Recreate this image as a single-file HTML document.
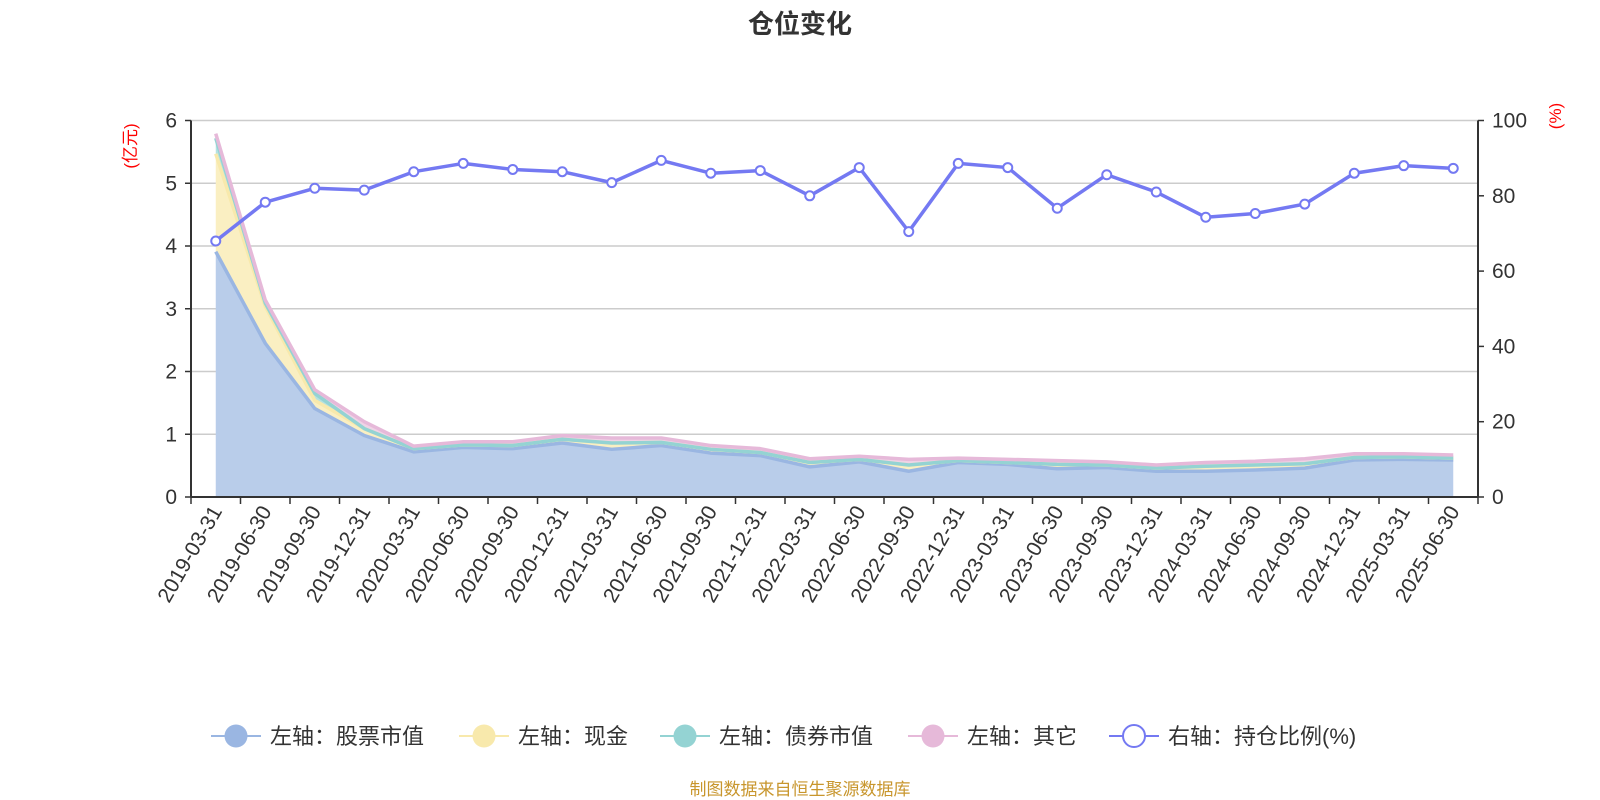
<!DOCTYPE html>
<html><head><meta charset="utf-8">
<style>
html,body{margin:0;padding:0;background:#fff;}
svg{display:block;font-family:"Liberation Sans","Noto Sans CJK SC",sans-serif;}
</style></head>
<body>
<svg id="chart" width="1600" height="800" viewBox="0 0 1600 800" xmlns="http://www.w3.org/2000/svg">
<text x="800" y="33" text-anchor="middle" font-size="26" font-weight="bold" fill="#333">仓位变化</text>
<text transform="translate(136,146) rotate(-90)" text-anchor="middle" font-size="17" fill="#f00">(亿元)</text>
<text transform="translate(1561,116) rotate(-90)" text-anchor="middle" font-size="17" fill="#f00">(%)</text>
<g id="grid"></g>
<g id="areas"></g>
<g id="alines"></g>
<g id="axes"></g>
<g id="ratio"></g>
<g id="legend"></g>
<text x="800" y="795" text-anchor="middle" font-size="17" fill="#c8962d">制图数据来自恒生聚源数据库</text>
</svg>
<script>
const categories = ["2019-03-31","2019-06-30","2019-09-30","2019-12-31","2020-03-31","2020-06-30","2020-09-30","2020-12-31","2021-03-31","2021-06-30","2021-09-30","2021-12-31","2022-03-31","2022-06-30","2022-09-30","2022-12-31","2023-03-31","2023-06-30","2023-09-30","2023-12-31","2024-03-31","2024-06-30","2024-09-30","2024-12-31","2025-03-31","2025-06-30"];
const stockValues = [3.91,2.45,1.41,0.98,0.72,0.79,0.77,0.86,0.76,0.82,0.70,0.66,0.48,0.56,0.41,0.55,0.52,0.45,0.47,0.41,0.41,0.43,0.46,0.59,0.60,0.59];
const cashValues  = [1.56,0.59,0.13,0.11,0.05,0.04,0.05,0.06,0.10,0.05,0.06,0.05,0.07,0.04,0.10,0.03,0.03,0.07,0.04,0.05,0.08,0.08,0.07,0.04,0.04,0.03];
const bondValues  = [0.25,0.05,0.11,0,0,0,0,0,0,0,0,0,0,0,0,0,0,0,0,0,0,0,0,0,0,0];
const otherValues = [0.07,0.05,0.06,0.11,0.04,0.05,0.06,0.06,0.08,0.07,0.06,0.06,0.06,0.05,0.09,0.04,0.05,0.06,0.05,0.05,0.06,0.06,0.08,0.06,0.05,0.05];
const ratioValues = [68,78.3,82,81.5,86.4,88.6,87,86.4,83.5,89.4,86,86.7,80,87.5,70.5,88.6,87.5,76.7,85.6,81,74.3,75.3,77.8,86,88,87.3];
const leftTicks = [0,1,2,3,4,5,6];
const rightTicks = [0,20,40,60,80,100];

const NS="http://www.w3.org/2000/svg";
const X0=191,X1=1478,YB=497,YT=120.5;
const band=(X1-X0)/categories.length;
const xPos=i=>X0+band*(i+0.5);
const yL=v=>YB-(v/6)*(YB-YT);
const yR=v=>YB-(v/100)*(YB-YT);
function mk(tag,attrs,parent){const e=document.createElementNS(NS,tag);for(const k in attrs)e.setAttribute(k,attrs[k]);parent.appendChild(e);return e;}
const grid=document.getElementById('grid'),areas=document.getElementById('areas'),alines=document.getElementById('alines'),axes=document.getElementById('axes'),ratio=document.getElementById('ratio'),legend=document.getElementById('legend');

leftTicks.forEach(t=>{
  if(t>0){const g=mk('line',{x1:X0,x2:X1,y1:yL(t),y2:yL(t),stroke:'#ccc','stroke-width':1.5},grid);
  }
  const tk=mk('line',{x1:X0-6,x2:X0,y1:yL(t),y2:yL(t),stroke:'#333','stroke-width':1.5},axes);
  
  const lb=mk('text',{x:X0-14,y:yL(t)+7,'text-anchor':'end','font-size':21,fill:'#333'},axes);lb.textContent=t;
  
});
rightTicks.forEach(t=>{
  const tk=mk('line',{x1:X1,x2:X1+6,y1:yR(t),y2:yR(t),stroke:'#333','stroke-width':1.5},axes);
  
  const lb=mk('text',{x:X1+14,y:yR(t)+7,'text-anchor':'start','font-size':21,fill:'#333'},axes);lb.textContent=t;
  
});
let a=mk('line',{x1:X0,x2:X0,y1:YT,y2:YB,stroke:'#333','stroke-width':2},axes);

a=mk('line',{x1:X1,x2:X1,y1:YT,y2:YB,stroke:'#333','stroke-width':2},axes);

a=mk('line',{x1:X0,x2:X1,y1:YB,y2:YB,stroke:'#333','stroke-width':2},axes);

for(let i=0;i<=categories.length;i++){
  const x=X0+band*i;
  const tk=mk('line',{x1:x,x2:x,y1:YB,y2:YB+7,stroke:'#333','stroke-width':1.5},axes);
  
}
categories.forEach((c,i)=>{
  const x=xPos(i)+7,y=YB+14;
  const lb=mk('text',{transform:`translate(${x},${y}) rotate(-60)`,'text-anchor':'end','font-size':21,fill:'#333'},axes);
  lb.textContent=c;
  
});

const series=[
  {name:'stock',vals:stockValues,line:'#9ab6e2',fill:'#b9cdea'},
  {name:'cash',vals:cashValues,line:'#f8e9ac',fill:'#faefc2'},
  {name:'bond',vals:bondValues,line:'#94d3d3',fill:'#b5e1e1'},
  {name:'other',vals:otherValues,line:'#e6b9d9',fill:'#efd3e6'}
];
let base=categories.map(()=>0);
series.forEach(s=>{
  const top=base.map((b,i)=>b+s.vals[i]);
  let d='M'+categories.map((c,i)=>xPos(i)+','+yL(top[i])).join(' L');
  for(let i=categories.length-1;i>=0;i--)d+=' L'+xPos(i)+','+yL(base[i]);
  d+='Z';
  const ar=mk('path',{d:d,fill:s.fill,stroke:'none'},areas);
  
  const ln=mk('polyline',{points:categories.map((c,i)=>xPos(i)+','+yL(top[i])).join(' '),fill:'none',stroke:s.line,'stroke-width':3.5,'stroke-linejoin':'round'},alines);
  
  base=top;
});

const rl=mk('polyline',{points:ratioValues.map((v,i)=>xPos(i)+','+yR(v)).join(' '),fill:'none',stroke:'#7479f2','stroke-width':3.5,'stroke-linejoin':'round'},ratio);

ratioValues.forEach((v,i)=>{
  const p=mk('circle',{cx:xPos(i),cy:yR(v),r:4.5,fill:'#fff',stroke:'#7479f2','stroke-width':2},ratio);
  
});

const legendItems=[
  {label:'左轴：股票市值',color:'#9ab6e2',x:211,hollow:false},
  {label:'左轴：现金',color:'#f8e9ac',x:459,hollow:false},
  {label:'左轴：债券市值',color:'#94d3d3',x:660,hollow:false},
  {label:'左轴：其它',color:'#e6b9d9',x:908,hollow:false},
  {label:'右轴：持仓比例(%)',color:'#7479f2',x:1109,hollow:true}
];
legendItems.forEach(it=>{
  const g=mk('g',{},legend);
  
  mk('line',{x1:it.x,x2:it.x+50,y1:736,y2:736,stroke:it.color,'stroke-width':2},g);
  if(it.hollow)mk('circle',{cx:it.x+25,cy:736,r:11,fill:'#fff',stroke:it.color,'stroke-width':2},g);
  else mk('circle',{cx:it.x+25,cy:736,r:11.5,fill:it.color},g);
  const t=mk('text',{x:it.x+59,y:744,'font-size':22,fill:'#333'},g);t.textContent=it.label;
});
</script>
</body></html>
